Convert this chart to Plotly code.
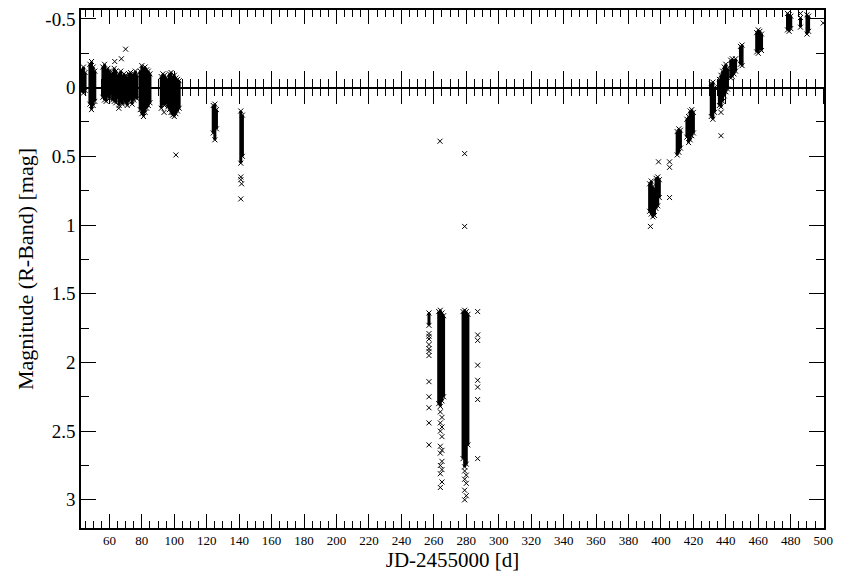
import plotly.graph_objects as go

# Nightly envelopes of the R-band light curve: night (JD-2455000),
# brightest and faintest magnitude recorded that night.
night_jd = [
    43, 44, 45,
    48, 49, 50, 51,
    56, 57, 58, 59, 60, 61, 62, 63, 64, 65,
    66, 67, 68, 69, 70, 71, 72, 73, 74, 75, 76, 77,
    79, 80, 81, 82, 83, 84, 85,
    92, 93, 94, 95, 96, 97, 98, 99, 100, 101, 102, 103,
    124, 125, 126,
    141, 142,
    257,
    263, 264, 265, 266,
    278, 279, 280, 281,
    393, 394, 395, 396, 397, 398, 399,
    410, 411, 412,
    416, 417, 418, 419, 420,
    431, 432, 433,
    436, 437, 438, 439, 440, 441,
    443, 444, 445, 446,
    449, 450,
    459, 460, 461, 462,
    478, 479, 480,
    486,
    490, 491,
]
night_bright = [
    -0.13, -0.15, -0.11,
    -0.17, -0.19, -0.15, -0.12,
    -0.15, -0.17, -0.13, -0.14, -0.12, -0.10, -0.11, -0.14, -0.12, -0.09,
    -0.10, -0.12, -0.08, -0.10, -0.09, -0.07, -0.10, -0.11, -0.09, -0.10, -0.12, -0.09,
    -0.12, -0.16, -0.14, -0.15, -0.13, -0.12, -0.10,
    -0.08, -0.10, -0.09, -0.07, -0.06, -0.10, -0.11, -0.08, -0.09, -0.07, -0.06, -0.05,
    0.13, 0.12, 0.16,
    0.17, 0.20,
    1.64,
    1.63, 1.62, 1.64, 1.66,
    1.63, 1.62, 1.63, 1.65,
    0.70, 0.68, 0.72, 0.74, 0.66, 0.65, 0.67,
    0.32, 0.30, 0.31,
    0.23, 0.21, 0.17, 0.16, 0.18,
    -0.03, -0.04, 0.00,
    -0.06, -0.09, -0.12, -0.15, -0.17, -0.14,
    -0.20, -0.21, -0.19, -0.21,
    -0.30, -0.31,
    -0.40, -0.42, -0.41, -0.39,
    -0.54, -0.53, -0.52,
    -0.51,
    -0.53, -0.52,
]
night_faint = [
    0.03, 0.04, 0.02,
    0.12, 0.16, 0.13, 0.10,
    0.07, 0.09, 0.10, 0.06, 0.08, 0.05, 0.09, 0.10, 0.11, 0.08,
    0.13, 0.10, 0.12, 0.09, 0.11, 0.13, 0.10, 0.08, 0.12, 0.09, 0.07, 0.08,
    0.16, 0.19, 0.21, 0.18, 0.15, 0.13, 0.11,
    0.15, 0.12, 0.13, 0.11, 0.14, 0.16, 0.18, 0.20, 0.21, 0.19, 0.17, 0.15,
    0.33, 0.38, 0.30,
    0.55, 0.50,
    1.73,
    2.30, 2.32, 2.28, 2.25,
    2.70, 2.76, 2.74, 2.60,
    0.90, 0.92, 0.94, 0.93, 0.88, 0.86, 0.80,
    0.49, 0.47, 0.44,
    0.36, 0.40, 0.38, 0.35, 0.33,
    0.21, 0.23, 0.18,
    0.13, 0.14, 0.10, 0.06, 0.03, 0.01,
    -0.07, -0.08, -0.10, -0.12,
    -0.17, -0.16,
    -0.26, -0.25, -0.28, -0.27,
    -0.42, -0.41, -0.43,
    -0.44,
    -0.39, -0.41,
]

# Isolated measurements outside the nightly envelopes
single_jd = [
    63.3, 67.4, 70.0, 65.8, 93.7, 98.8, 101.0,
    141, 141, 141.5, 141,
    257, 257, 257, 257, 257, 257, 257, 257, 257, 257, 257, 257,
    264, 265, 264, 265, 264, 265, 264, 265, 264, 265, 264, 265, 264, 265, 264,
    279, 280, 279, 280, 279, 280, 279,
    287, 287, 287, 287, 287, 287, 287, 287,
    263.8, 279, 279,
    393.5, 398.5, 405.3, 405.3, 405.3,
    437, 437,
    486, 500,
]
single_mag = [
    -0.19, -0.21, -0.28, 0.15, 0.18, 0.18, 0.49,
    0.65, 0.67, 0.70, 0.81,
    1.79, 1.81, 1.83, 1.87, 1.90, 1.92, 1.95, 2.14, 2.25, 2.33, 2.44, 2.60,
    2.36, 2.40, 2.44, 2.47, 2.50, 2.54, 2.61, 2.64, 2.66, 2.72, 2.75, 2.78, 2.81, 2.87, 2.91,
    2.79, 2.82, 2.85, 2.88, 2.93, 2.97, 3.00,
    1.63, 1.80, 1.84, 2.02, 2.13, 2.18, 2.27, 2.70,
    0.39, 0.48, 1.01,
    1.01, 0.54, 0.54, 0.58, 0.80,
    0.18, 0.35,
    -0.54, -0.47,
]

x_range = [42.5, 500.5]
y_range = [3.205, -0.565]
y_tick_vals = [-0.5, 0, 0.5, 1, 1.5, 2, 2.5, 3]
y_tick_text = ["-0.5", "0", "0.5", "1", "1.5", "2", "2.5", "3"]

serif = "Times New Roman, Liberation Serif, DejaVu Serif, serif"
ink = "black"

# vertical segments spanning each night's envelope
seg_x, seg_y = [], []
for d, lo, hi in zip(night_jd, night_bright, night_faint):
    seg_x += [d, d, None]
    seg_y += [lo, hi, None]

cross = dict(symbol="x-thin", size=5, color=ink, line=dict(width=1, color=ink))

fig = go.Figure()
fig.add_trace(go.Scatter(x=seg_x, y=seg_y, mode="lines",
                         line=dict(color=ink, width=3), hoverinfo="skip",
                         showlegend=False))
fig.add_trace(go.Scatter(x=night_jd + night_jd, y=night_bright + night_faint,
                         mode="markers", marker=cross, showlegend=False))
fig.add_trace(go.Scatter(x=single_jd, y=single_mag, mode="markers",
                         marker=cross, showlegend=False))

# empty traces so the frame and zero-line axes get drawn
for xa, ya in [("x2", "y"), ("x3", "y"), ("x4", "y"), ("x", "y2")]:
    fig.add_trace(go.Scatter(x=[None], y=[None], xaxis=xa, yaxis=ya,
                             showlegend=False, hoverinfo="skip"))

zero_pos = (y_range[0] - 0) / (y_range[0] - y_range[1])

frame = dict(showline=True, linecolor=ink, linewidth=1.5, showgrid=False,
             zeroline=False, tickcolor=ink, tickwidth=1.2, automargin=False)

x_common = dict(frame, range=x_range, tick0=0, dtick=20,
                minor=dict(dtick=5, ticklen=7, tickwidth=1.2,
                           tickcolor=ink, ticks="inside"))

fig.update_layout(
    width=842, height=572,
    margin=dict(l=81, r=18, t=10, b=44, autoexpand=False),
    paper_bgcolor="white", plot_bgcolor="white",
    font=dict(family=serif, color=ink),
    xaxis=dict(x_common, ticks="inside", ticklen=14,
               tickfont=dict(family=serif, size=13),
               title=dict(text="JD-2455000 [d]", standoff=3,
                          font=dict(family=serif, size=21))),
    xaxis2=dict(x_common, overlaying="x", side="top", anchor="y",
                ticks="inside", ticklen=14, showticklabels=False),
    xaxis3=dict(x_common, overlaying="x", anchor="free", position=zero_pos,
                side="bottom", ticks="inside", ticklen=16,
                minor=dict(dtick=5, ticklen=8, tickwidth=1.2, tickcolor=ink,
                           ticks="inside"),
                showticklabels=False),
    xaxis4=dict(x_common, overlaying="x", anchor="free", position=zero_pos,
                side="bottom", ticks="outside", ticklen=16,
                minor=dict(dtick=5, ticklen=8, tickwidth=1.2, tickcolor=ink,
                           ticks="outside"),
                showticklabels=False),
    yaxis=dict(frame, range=y_range, tickvals=y_tick_vals, ticktext=y_tick_text,
               ticks="inside", ticklen=15,
               minor=dict(dtick=0.25, ticklen=8, tickwidth=1.2, tickcolor=ink,
                          ticks="inside"),
               tickfont=dict(family=serif, size=19),
               title=dict(text="Magnitude (R-Band) [mag]", standoff=6,
                          font=dict(family=serif, size=22))),
    yaxis2=dict(frame, range=y_range, overlaying="y", side="right", anchor="x",
                tickvals=y_tick_vals, ticks="inside", ticklen=15,
                minor=dict(dtick=0.25, ticklen=8, tickwidth=1.2, tickcolor=ink,
                           ticks="inside"),
                showticklabels=False),
)

fig.write_html("out.html")
